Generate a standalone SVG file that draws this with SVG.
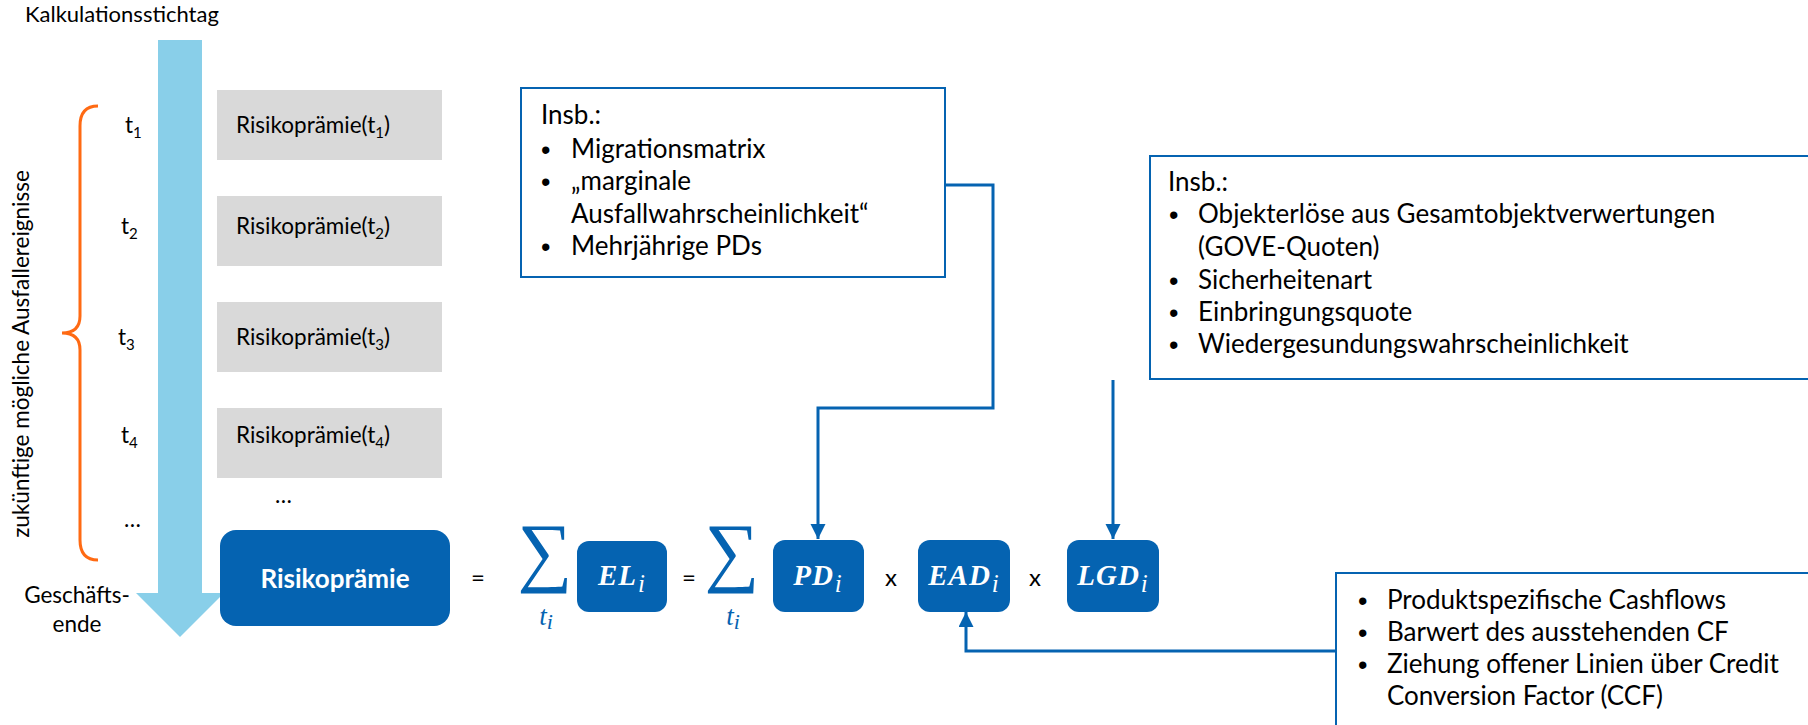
<svg xmlns="http://www.w3.org/2000/svg" width="1808" height="725" viewBox="0 0 1808 725">
<style>
.t{font-family:Lato,"Liberation Sans",sans-serif;fill:#000}
.s20{font-size:22.5px}
.s22{font-size:26px}
.op{font-size:24px}
.b{font-family:"Liberation Sans",sans-serif;font-size:27px}
.gray{fill:#D9D9D9}
.blue{fill:#0563B1}
.call{fill:#fff;stroke:#0563B1;stroke-width:2}
.conn{fill:none;stroke:#0563B1;stroke-width:3}
.m{font-family:"Liberation Serif","DejaVu Serif",serif;font-style:italic;font-weight:bold;fill:#fff;font-size:29px;letter-spacing:1px}
.sub{font-weight:normal;font-size:25px}
.sig{font-family:"Liberation Serif","DejaVu Serif",serif;fill:#0563B1;font-size:77px}
.ti{font-family:"Liberation Serif","DejaVu Serif",serif;font-style:italic;fill:#0563B1;font-size:27px}
</style>
<defs>
<marker id="ah" markerUnits="userSpaceOnUse" markerWidth="16" markerHeight="16" refX="15" refY="7.5" orient="auto">
<path d="M0,0 L15,7.5 L0,15 z" fill="#0563B1"/>
</marker>
</defs>
<rect width="1808" height="725" fill="#fff"/>

<g id="timeline">
<text class="t" font-size="22" x="25" y="22">Kalkulationsstichtag</text>
<path d="M158,40 H202 V593 H224 L180,637 L136,593 H158 Z" fill="#89CFE9"/>
<text class="t s20" x="77" y="603" text-anchor="middle">Geschäfts-</text>
<text class="t s20" x="77" y="632" text-anchor="middle">ende</text>
</g>

<g id="brace">
<path d="M98,106 Q80,106 80,126 V316 Q80,333 62,333 Q80,333 80,350 V540 Q80,560 98,560" fill="none" stroke="#FF6A13" stroke-width="3"/>
<text class="t s20" transform="translate(29,354) rotate(-90)" text-anchor="middle">zukünftige mögliche Ausfallereignisse</text>
</g>

<g id="times" class="t s20">
<text x="125" y="133">t<tspan font-size="15" dy="5">1</tspan></text>
<text x="121" y="234">t<tspan font-size="15" dy="5">2</tspan></text>
<text x="118" y="345">t<tspan font-size="15" dy="5">3</tspan></text>
<text x="121" y="443">t<tspan font-size="15" dy="5">4</tspan></text>
<text x="124" y="527">…</text>
<text x="275" y="503">…</text>
</g>

<g id="rp1"><rect class="gray" x="217" y="90" width="225" height="70"/><text class="t s20" x="236" y="133">Risikoprämie(t<tspan font-size="15" dy="5">1</tspan><tspan dy="-5">)</tspan></text></g>
<g id="rp2"><rect class="gray" x="217" y="196" width="225" height="70"/><text class="t s20" x="236" y="234">Risikoprämie(t<tspan font-size="15" dy="5">2</tspan><tspan dy="-5">)</tspan></text></g>
<g id="rp3"><rect class="gray" x="217" y="302" width="225" height="70"/><text class="t s20" x="236" y="345">Risikoprämie(t<tspan font-size="15" dy="5">3</tspan><tspan dy="-5">)</tspan></text></g>
<g id="rp4"><rect class="gray" x="217" y="408" width="225" height="70"/><text class="t s20" x="236" y="443">Risikoprämie(t<tspan font-size="15" dy="5">4</tspan><tspan dy="-5">)</tspan></text></g>

<g id="risikopraemie">
<rect class="blue" x="220" y="530" width="230" height="96" rx="16"/>
<text x="335" y="588" text-anchor="middle" font-family="Lato,'Liberation Sans',sans-serif" font-weight="bold" font-size="26" fill="#fff">Risikoprämie</text>
</g>

<g id="formula">
<text class="t op" x="478" y="586" text-anchor="middle">=</text>
<text class="sig" x="545" y="577" text-anchor="middle">∑</text>
<text class="ti" x="546" y="625" text-anchor="middle">t<tspan font-size="22" dy="4">i</tspan></text>
<text class="t op" x="689" y="586" text-anchor="middle">=</text>
<text class="sig" x="732" y="577" text-anchor="middle">∑</text>
<text class="ti" x="733" y="625" text-anchor="middle">t<tspan font-size="22" dy="4">i</tspan></text>
<text class="t op" x="891" y="586" text-anchor="middle">x</text>
<text class="t op" x="1035" y="586" text-anchor="middle">x</text>
</g>

<g id="el"><rect class="blue" x="577" y="541" width="90" height="71" rx="12"/><text class="m" x="622" y="585" text-anchor="middle">EL<tspan class="sub" dx="1" dy="7">i</tspan></text></g>
<g id="pd"><rect class="blue" x="773" y="540" width="91" height="72" rx="12"/><text class="m" x="818" y="585" text-anchor="middle">PD<tspan class="sub" dx="1" dy="7">i</tspan></text></g>
<g id="ead"><rect class="blue" x="918" y="540" width="92" height="72" rx="12"/><text class="m" x="964" y="585" text-anchor="middle">EAD<tspan class="sub" dx="1" dy="7">i</tspan></text></g>
<g id="lgd"><rect class="blue" x="1067" y="540" width="92" height="72" rx="12"/><text class="m" x="1113" y="585" text-anchor="middle">LGD<tspan class="sub" dx="1" dy="7">i</tspan></text></g>

<g id="callout-pd">
<rect class="call" x="521" y="88" width="424" height="189"/>
<text class="t s22" x="541" y="124">Insb.:</text>
<g class="b">
<text x="541" y="159">•</text><text x="541" y="191">•</text><text x="541" y="256">•</text>
</g>
<g class="t s22">
<text x="571" y="158">Migrationsmatrix</text>
<text x="571" y="190">„marginale</text>
<text x="571" y="223">Ausfallwahrscheinlichkeit“</text>
<text x="571" y="255">Mehrjährige PDs</text>
</g>
</g>

<g id="callout-lgd">
<rect class="call" x="1150" y="156" width="680" height="223"/>
<text class="t s22" x="1168" y="191">Insb.:</text>
<g class="b">
<text x="1169" y="224">•</text><text x="1169" y="290">•</text><text x="1169" y="322">•</text><text x="1169" y="354">•</text>
</g>
<g class="t s22">
<text x="1198" y="223">Objekterlöse aus Gesamtobjektverwertungen</text>
<text x="1198" y="256">(GOVE-Quoten)</text>
<text x="1198" y="289">Sicherheitenart</text>
<text x="1198" y="321">Einbringungsquote</text>
<text x="1198" y="353">Wiedergesundungswahrscheinlichkeit</text>
</g>
</g>

<g id="callout-ead">
<rect class="call" x="1336" y="573" width="500" height="170"/>
<g class="b">
<text x="1358" y="610">•</text><text x="1358" y="642">•</text><text x="1358" y="674">•</text>
</g>
<g class="t s22">
<text x="1387" y="609">Produktspezifische Cashflows</text>
<text x="1387" y="641">Barwert des ausstehenden CF</text>
<text x="1387" y="673">Ziehung offener Linien über Credit</text>
<text x="1387" y="705">Conversion Factor (CCF)</text>
</g>
</g>

<g id="connectors">
<path class="conn" d="M946,185 H993 V408 H818 V539" marker-end="url(#ah)"/>
<path class="conn" d="M1113,380 V539" marker-end="url(#ah)"/>
<path class="conn" d="M1336,651 H966 V612" marker-end="url(#ah)"/>
</g>
</svg>
